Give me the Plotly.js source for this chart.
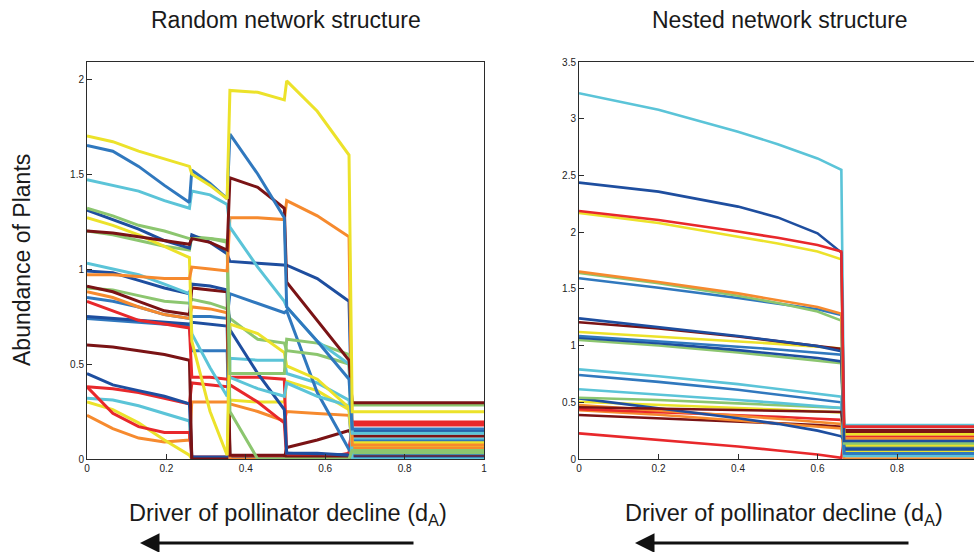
<!DOCTYPE html>
<html>
<head>
<meta charset="utf-8">
<script src="https://cdn.plot.ly/plotly-3.0.1.min.js"></script>
<style>
  html, body { margin: 0; padding: 0; background: #fff; }
  #chart { width: 974px; height: 552px; }
</style>
</head>
<body>
<div id="chart"></div>
<script>
// ---- Random network: plant abundances along the pollinator-decline driver ----
const randomX = [0, 0.065, 0.13, 0.195, 0.258, 0.264, 0.31, 0.353, 0.36, 0.43, 0.497, 0.503, 0.58, 0.66, 0.668, 1];

const rndYellow1 = [1.70, 1.67, 1.62, 1.58, 1.54, 1.50, 1.44, 1.37, 1.94, 1.93, 1.89, 1.99, 1.83, 1.60, 0.249, 0.249];
const rndBlue1   = [1.65, 1.62, 1.54, 1.44, 1.35, 1.52, 1.45, 1.37, 1.71, 1.50, 1.27, 0.80, 0.62, 0.42, 0.158, 0.158];
const rndCyan1   = [1.47, 1.44, 1.41, 1.36, 1.32, 1.41, 1.39, 1.34, 1.22, 1.01, 0.83, 0.80, 0.62, 0.50, 0.135, 0.135];
const rndGreen1  = [1.32, 1.28, 1.23, 1.20, 1.16, 1.16, 1.16, 1.15, 0.45, 0.45, 0.45, 0.63, 0.61, 0.55, 0.284, 0.284];
const rndDBlue1  = [1.31, 1.26, 1.21, 1.15, 1.11, 1.18, 1.14, 1.08, 1.04, 1.03, 1.02, 1.02, 0.95, 0.83, 0.144, 0.144];
const rndYellow2 = [1.27, 1.23, 1.18, 1.12, 1.06, 0.62, 0.25, 0.02, 0.71, 0.66, 0.56, 0.49, 0.42, 0.27, 0.086, 0.086];
const rndGreen2  = [1.20, 1.18, 1.15, 1.12, 1.10, 1.17, 1.16, 1.14, 0.25, 0.00, 0.00, 0.00, 0.00, 0.00, 0.045, 0.045];
const rndDRed1   = [1.20, 1.19, 1.17, 1.15, 1.13, 1.16, 1.14, 1.10, 1.48, 1.43, 1.32, 0.93, 0.73, 0.52, 0.296, 0.296];
const rndCyan2   = [1.03, 1.00, 0.97, 0.92, 0.87, 0.66, 0.48, 0.33, 0.43, 0.37, 0.33, 0.40, 0.33, 0.28, 0.000, 0.000];
const rndOrange1 = [0.97, 0.97, 0.96, 0.95, 0.95, 1.01, 1.00, 0.99, 1.27, 1.27, 1.26, 1.36, 1.28, 1.17, 0.074, 0.074];
const rndDBlue2  = [0.99, 0.98, 0.94, 0.90, 0.87, 0.92, 0.91, 0.89, 0.68, 0.45, 0.26, 0.03, 0.03, 0.02, 0.005, 0.005];
const rndDRed2   = [0.91, 0.88, 0.83, 0.78, 0.76, 0.90, 0.89, 0.88, 0.02, 0.02, 0.02, 0.01, 0.01, 0.01, 0.012, 0.012];
const rndGreen3  = [0.90, 0.89, 0.86, 0.83, 0.82, 0.84, 0.82, 0.79, 0.74, 0.63, 0.61, 0.57, 0.55, 0.50, 0.033, 0.033];
const rndOrange2 = [0.88, 0.85, 0.80, 0.76, 0.74, 0.80, 0.79, 0.77, 0.00, 0.00, 0.00, 0.00, 0.00, 0.00, 0.056, 0.056];
const rndBlue2   = [0.85, 0.83, 0.80, 0.76, 0.74, 0.75, 0.75, 0.74, 0.87, 0.82, 0.77, 0.78, 0.35, 0.05, 0.021, 0.021];
const rndRed1    = [0.83, 0.78, 0.73, 0.71, 0.69, 0.43, 0.43, 0.42, 0.43, 0.43, 0.42, 0.02, 0.01, 0.02, 0.179, 0.179];
const rndDBlue3  = [0.75, 0.74, 0.73, 0.72, 0.71, 0.72, 0.71, 0.70, 0.00, 0.00, 0.00, 0.02, 0.02, 0.02, 0.030, 0.030];
const rndBlue3   = [0.74, 0.73, 0.72, 0.71, 0.70, 0.57, 0.57, 0.57, 0.00, 0.00, 0.00, 0.00, 0.00, 0.00, 0.095, 0.095];
const rndDRed3   = [0.60, 0.59, 0.57, 0.55, 0.52, 0.00, 0.00, 0.00, 0.00, 0.00, 0.00, 0.06, 0.10, 0.15, 0.121, 0.121];
const rndDBlue4  = [0.45, 0.39, 0.36, 0.33, 0.29, 0.01, 0.01, 0.01, 0.00, 0.00, 0.00, 0.03, 0.025, 0.02, 0.150, 0.150];
const rndRed2    = [0.38, 0.37, 0.35, 0.32, 0.29, 0.40, 0.39, 0.38, 0.39, 0.30, 0.19, 0.00, 0.00, 0.03, 0.188, 0.188];
const rndRed3    = [0.38, 0.24, 0.17, 0.14, 0.14, 0.01, 0.01, 0.01, 0.01, 0.01, 0.01, 0.01, 0.01, 0.02, 0.195, 0.195];
const rndCyan3   = [0.32, 0.31, 0.28, 0.24, 0.20, 0.00, 0.00, 0.00, 0.53, 0.52, 0.52, 0.45, 0.40, 0.31, 0.105, 0.105];
const rndYellow3 = [0.30, 0.26, 0.19, 0.10, 0.02, 0.00, 0.00, 0.00, 0.31, 0.30, 0.30, 0.41, 0.36, 0.26, 0.065, 0.065];
const rndOrange3 = [0.23, 0.16, 0.11, 0.09, 0.10, 0.30, 0.30, 0.30, 0.29, 0.25, 0.20, 0.25, 0.24, 0.23, 0.080, 0.080];

// ---- Nested network ----
const nestedX = [0, 0.2, 0.4, 0.5, 0.6, 0.66, 0.667, 1];

const nstCyan1   = [3.225, 3.08, 2.886, 2.775, 2.65, 2.55, 0.300, 0.300];
const nstDBlue1  = [2.437, 2.357, 2.225, 2.13, 1.99, 1.82, 0.159, 0.159];
const nstYellow1 = [2.17, 2.08, 1.96, 1.90, 1.83, 1.76, 0.218, 0.218];
const nstOrange1 = [1.652, 1.56, 1.46, 1.40, 1.34, 1.28, 0.182, 0.182];
const nstGreen1  = [1.64, 1.55, 1.44, 1.375, 1.30, 1.22, 0.138, 0.138];
const nstBlue1   = [1.593, 1.51, 1.42, 1.37, 1.32, 1.27, 0.050, 0.050];
const nstDBlue2  = [1.24, 1.165, 1.085, 1.04, 0.995, 0.95, 0.085, 0.085];
const nstDRed1   = [1.205, 1.15, 1.08, 1.04, 1.00, 0.97, 0.256, 0.256];
const nstYellow2 = [1.12, 1.08, 1.04, 1.015, 0.99, 0.975, 0.123, 0.123];
const nstBlue2   = [1.085, 1.04, 0.99, 0.965, 0.94, 0.92, 0.150, 0.150];
const nstDBlue3  = [1.07, 1.02, 0.96, 0.925, 0.89, 0.86, 0.092, 0.092];
const nstGreen2  = [1.05, 1.00, 0.94, 0.905, 0.87, 0.845, 0.140, 0.140];
const nstCyan2   = [0.79, 0.73, 0.66, 0.62, 0.58, 0.55, 0.026, 0.026];
const nstBlue3   = [0.74, 0.68, 0.61, 0.57, 0.53, 0.50, 0.045, 0.045];
const nstCyan3   = [0.615, 0.57, 0.52, 0.495, 0.47, 0.45, 0.030, 0.030];
const nstGreen3  = [0.54, 0.52, 0.49, 0.475, 0.46, 0.45, 0.100, 0.100];
const nstDBlue4  = [0.535, 0.45, 0.36, 0.31, 0.25, 0.20, 0.160, 0.160];
const nstYellow3 = [0.505, 0.48, 0.45, 0.435, 0.42, 0.41, 0.070, 0.070];
const nstOrange2 = [0.475, 0.43, 0.38, 0.355, 0.33, 0.31, 0.108, 0.108];
const nstRed1    = [0.44, 0.415, 0.39, 0.372, 0.355, 0.345, 0.197, 0.197];
const nstOrange3 = [0.43, 0.39, 0.34, 0.315, 0.29, 0.27, 0.003, 0.003];
const nstDRed2   = [0.388, 0.36, 0.33, 0.315, 0.30, 0.285, 0.240, 0.240];
const nstDRed3   = [0.456, 0.445, 0.435, 0.428, 0.42, 0.415, 0.235, 0.235];
const nstRed2    = [0.226, 0.17, 0.11, 0.075, 0.04, 0.01, 0.190, 0.190];
const nstRed3    = [2.187, 2.107, 2.005, 1.95, 1.887, 1.83, 0.285, 0.285];

// Palette
const C = {
  yellow: '#ECE22A',
  blue:   '#3078BE',
  cyan:   '#5BC4D8',
  dblue:  '#1E4E9F',
  green:  '#8CC66F',
  dred:   '#7A1315',
  orange: '#F68A2E',
  red:    '#E8282B'
};

const randomLines = [
  [rndOrange3, C.orange], [rndYellow3, C.yellow], [rndCyan3, C.cyan], [rndRed3, C.red],
  [rndRed2, C.red], [rndDBlue4, C.dblue], [rndDRed3, C.dred], [rndBlue3, C.blue],
  [rndDBlue3, C.dblue], [rndRed1, C.red], [rndBlue2, C.blue], [rndOrange2, C.orange],
  [rndGreen3, C.green], [rndDRed2, C.dred], [rndDBlue2, C.dblue], [rndCyan2, C.cyan],
  [rndGreen2, C.green], [rndYellow2, C.yellow], [rndDBlue1, C.dblue], [rndGreen1, C.green],
  [rndOrange1, C.orange], [rndCyan1, C.cyan], [rndDRed1, C.dred], [rndBlue1, C.blue],
  [rndYellow1, C.yellow]
];

const nestedLines = [
  [nstRed2, C.red], [nstDRed2, C.dred], [nstOrange3, C.orange], [nstRed1, C.red],
  [nstOrange2, C.orange], [nstYellow3, C.yellow], [nstDBlue4, C.dblue], [nstGreen3, C.green],
  [nstCyan3, C.cyan], [nstBlue3, C.blue], [nstCyan2, C.cyan], [nstDRed3, C.dred],
  [nstGreen2, C.green], [nstDBlue3, C.dblue], [nstBlue2, C.blue], [nstYellow2, C.yellow],
  [nstDRed1, C.dred], [nstDBlue2, C.dblue], [nstBlue1, C.blue], [nstGreen1, C.green],
  [nstOrange1, C.orange], [nstYellow1, C.yellow], [nstCyan1, C.cyan], [nstDBlue1, C.dblue],
  [nstRed3, C.red]
];

const traces = [];
randomLines.forEach(([ys, col]) => traces.push({
  type: 'scatter', mode: 'lines', x: randomX, y: ys,
  xaxis: 'x', yaxis: 'y',
  line: { color: col, width: 3, shape: 'linear' }, hoverinfo: 'skip'
}));
nestedLines.forEach(([ys, col]) => traces.push({
  type: 'scatter', mode: 'lines', x: nestedX, y: ys,
  xaxis: 'x2', yaxis: 'y2',
  line: { color: col, width: 2.6, shape: 'linear' }, hoverinfo: 'skip'
}));

const W = 974, H = 552, T = 62, B = 93;
const plotH = H - T - B;
const py = p => (H - B - p) / plotH;   // pixel row -> paper y
const px = p => p / W;                 // pixel column -> paper x

const FONT = 'Liberation Sans, Arial, Helvetica, sans-serif';
const axisCommon = {
  showgrid: false, zeroline: false, showline: true,
  linecolor: '#2b2b2b', linewidth: 1,
  ticks: 'inside', ticklen: 5, tickwidth: 1, tickcolor: '#2b2b2b',
  tickfont: { family: FONT, size: 10, color: '#222' },
  fixedrange: true
};

const titleFont = { family: FONT, size: 23, color: '#1a1a1a' };

const layout = {
  width: W, height: H,
  margin: { l: 0, r: 0, t: T, b: B, pad: 0 },
  paper_bgcolor: '#ffffff', plot_bgcolor: '#ffffff',
  showlegend: false,
  xaxis: Object.assign({}, axisCommon, {
    domain: [87 / W, 484 / W], range: [0, 1], dtick: 0.2, mirror: true, anchor: 'y'
  }),
  yaxis: Object.assign({}, axisCommon, {
    range: [0, 397 / 190], dtick: 0.5, tick0: 0, mirror: true, anchor: 'x'
  }),
  xaxis2: Object.assign({}, axisCommon, {
    domain: [579 / W, 1], range: [0, (W - 579) / 397.5], dtick: 0.2, mirror: true, anchor: 'y2'
  }),
  yaxis2: Object.assign({}, axisCommon, {
    range: [0, 3.5], dtick: 0.5, tick0: 0, mirror: false, anchor: 'x2'
  }),
  annotations: [
    { text: 'Random network structure', x: px(286), y: py(20), xref: 'paper', yref: 'paper',
      showarrow: false, xanchor: 'center', yanchor: 'middle', font: titleFont },
    { text: 'Nested network structure', x: px(780), y: py(20), xref: 'paper', yref: 'paper',
      showarrow: false, xanchor: 'center', yanchor: 'middle', font: titleFont },
    { text: 'Abundance of Plants', x: px(22), y: py(260), xref: 'paper', yref: 'paper',
      showarrow: false, textangle: -90, xanchor: 'center', yanchor: 'middle', font: titleFont },
    { text: 'Driver of pollinator decline (d<sub>A</sub>)', x: px(288), y: py(514), xref: 'paper', yref: 'paper',
      showarrow: false, xanchor: 'center', yanchor: 'middle',
      font: { family: FONT, size: 23.5, color: '#1a1a1a' } },
    { text: 'Driver of pollinator decline (d<sub>A</sub>)', x: px(784), y: py(514), xref: 'paper', yref: 'paper',
      showarrow: false, xanchor: 'center', yanchor: 'middle',
      font: { family: FONT, size: 23.5, color: '#1a1a1a' } },
    { text: '', x: px(140), y: py(543), xref: 'paper', yref: 'paper',
      showarrow: true, ax: 275, ay: 0, axref: 'pixel', ayref: 'pixel',
      arrowhead: 2, arrowsize: 1.3, arrowwidth: 3, arrowcolor: '#111', standoff: 0 },
    { text: '', x: px(635), y: py(543), xref: 'paper', yref: 'paper',
      showarrow: true, ax: 275, ay: 0, axref: 'pixel', ayref: 'pixel',
      arrowhead: 2, arrowsize: 1.3, arrowwidth: 3, arrowcolor: '#111', standoff: 0 }
  ]
};

Plotly.newPlot('chart', traces, layout, { staticPlot: true, displayModeBar: false });
</script>
</body>
</html>
